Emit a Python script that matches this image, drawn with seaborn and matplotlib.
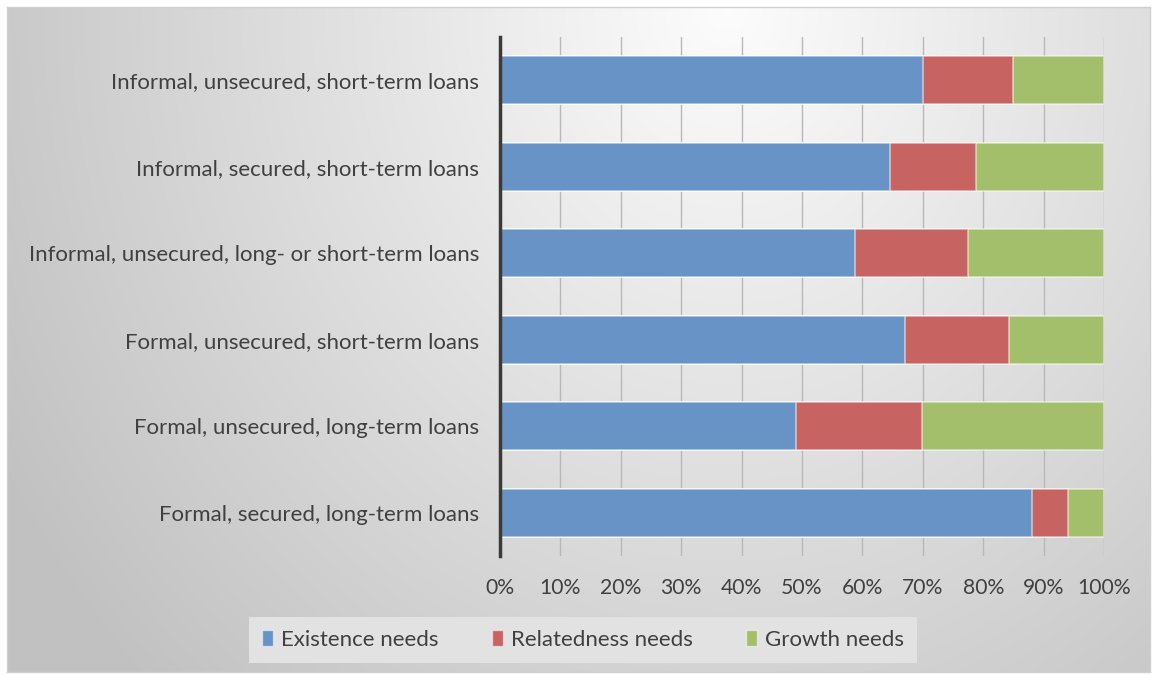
import numpy as np
import pandas as pd
import matplotlib
matplotlib.use("Agg")
import matplotlib.pyplot as plt
from matplotlib.patches import Patch
import seaborn as sns

# data (share of each need, %)
categories = [
    "Informal, unsecured, short-term loans",
    "Informal, secured, short-term loans",
    "Informal, unsecured, long- or short-term loans",
    "Formal, unsecured, short-term loans",
    "Formal, unsecured, long-term loans",
    "Formal, secured, long-term loans",
]
existence = [70.0, 64.5, 58.7, 67.0, 49.0, 88.1]
relatedness = [15.0, 14.3, 18.8, 17.3, 20.8, 5.9]
growth = [15.0, 21.2, 22.5, 15.7, 30.2, 6.0]
series_names = ["Existence needs", "Relatedness needs", "Growth needs"]
colors = ["#6893C6", "#C76461", "#A4BF6C"]
xticks = list(range(0, 101, 10))

df = pd.DataFrame({"category": categories, "Existence needs": existence,
                   "Relatedness needs": relatedness, "Growth needs": growth})
df["c1"] = df["Existence needs"]
df["c2"] = df["c1"] + df["Relatedness needs"]
df["c3"] = df["c2"] + df["Growth needs"]

sns.set_style("white")
plt.rcParams["font.family"] = ["Lato", "DejaVu Sans"]
text_col = "#404040"

fig = plt.figure(figsize=(11.53, 6.75), dpi=100)

# background panel with soft radial gradient
bg = fig.add_axes([7 / 1153, 3 / 675, 1143 / 1153, 665 / 675], zorder=-5)
h, w = 665, 1143
yy, xx = np.mgrid[0:h, 0:w]
d = np.sqrt(((xx - 720) / 720.0) ** 2 + ((yy - 0) / 820.0) ** 2)
val = 0.99 - 0.2 * np.clip(d, 0, 1.15)
bg.imshow(np.dstack([val, val, val]), aspect="auto", extent=[0, 1, 0, 1])
bg.set_xticks([])
bg.set_yticks([])
for s in bg.spines.values():
    s.set_color("#D0D0D0")
    s.set_linewidth(1)

ax = fig.add_axes([500 / 1153, 1 - 556 / 675, 604 / 1153, (556 - 37) / 675])
ax.patch.set_alpha(0)

# stacked bars: draw cumulative totals back to front
for col, c in zip(["c3", "c2", "c1"], colors[::-1]):
    sns.barplot(data=df, x=col, y="category", orient="h", color=c,
                width=0.56, edgecolor=(1, 1, 1, 0.55), linewidth=1.2,
                saturation=1, ax=ax, zorder=3)

ax.set_xlim(0, 100)
ax.set_xticks(xticks)
ax.set_xticklabels([f"{t}%" for t in xticks], fontsize=15.2, color=text_col)
ax.tick_params(axis="x", length=0, pad=16)
ax.tick_params(axis="y", length=0, pad=15, labelsize=16, labelcolor=text_col)
ax.set_xlabel("")
ax.set_ylabel("")
ax.grid(axis="x", color="#B8B8B8", linewidth=1, zorder=0)
ax.set_axisbelow(True)
for s in ["top", "right", "bottom"]:
    ax.spines[s].set_visible(False)
ax.spines["left"].set_color("#3A3A3A")
ax.spines["left"].set_linewidth(2.5)
ax.spines["left"].set_zorder(5)

handles = [Patch(facecolor=c, edgecolor=(1, 1, 1, 0.5)) for c in colors]
leg = fig.legend(handles, series_names, loc="center", ncol=3,
                 bbox_to_anchor=(583 / 1153, 1 - 640 / 675), frameon=True,
                 fontsize=16, handlelength=0.5, handleheight=0.75,
                 handletextpad=0.35, columnspacing=2.4, borderpad=0.6,
                 borderaxespad=0, fancybox=False, labelcolor=text_col)
leg.get_frame().set_facecolor("#E2E2E2")
leg.get_frame().set_edgecolor("none")
leg.get_frame().set_alpha(1)

fig.savefig("out.png", dpi=100, facecolor="white")
